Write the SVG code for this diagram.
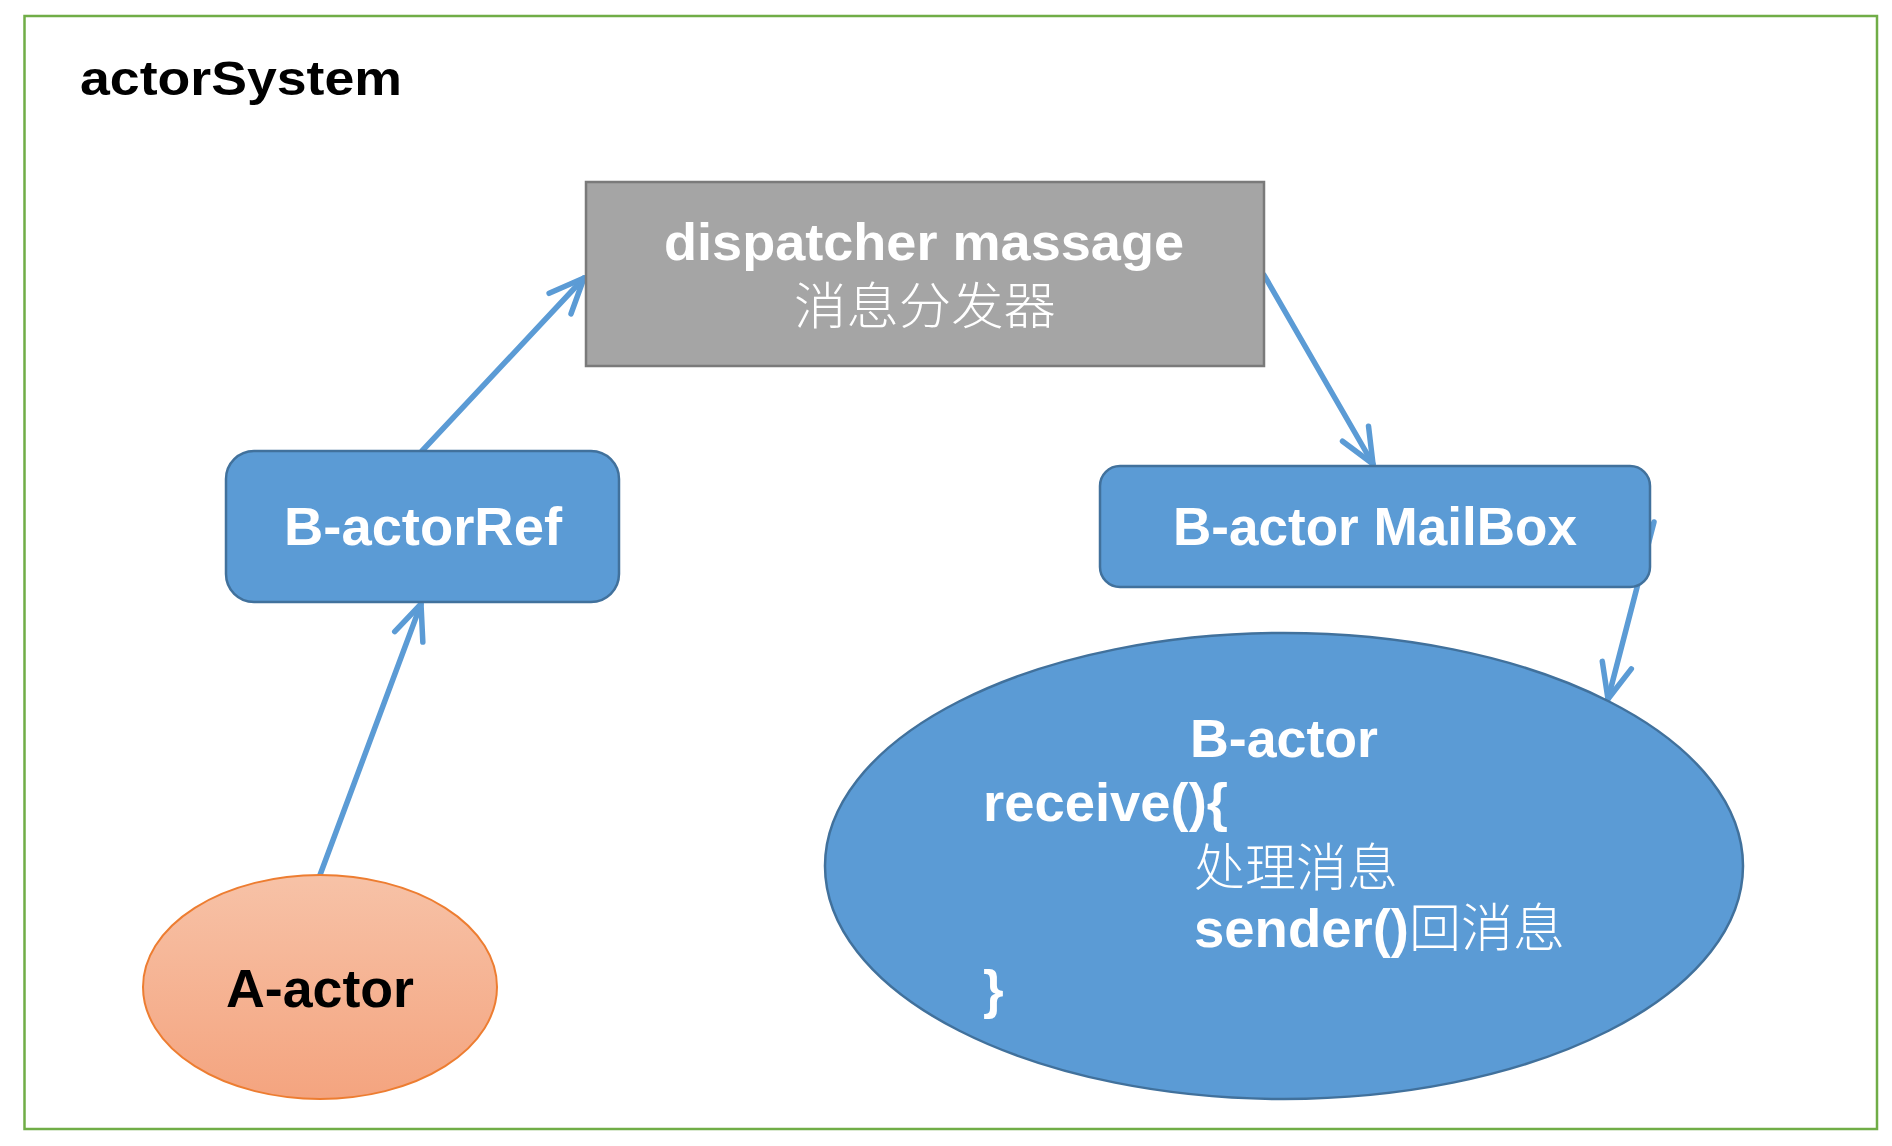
<svg xmlns="http://www.w3.org/2000/svg" width="1892" height="1146" viewBox="0 0 1892 1146">
<style>
.en{font-family:"Liberation Sans",Arial,sans-serif;font-weight:bold;fill:#fff}
.zh{font-family:"Noto Sans CJK SC",sans-serif;font-weight:300;fill:#fff}
.blue{fill:#5B9BD5;stroke:#41719C;stroke-width:2.5}
.conn{stroke:#5B9BD5;stroke-width:5.5;fill:none;stroke-linecap:round;marker-end:url(#arr)}
</style>
<defs>
<marker id="arr" markerUnits="userSpaceOnUse" viewBox="-45 -25 50 50" markerWidth="50" markerHeight="50" refX="0" refY="0" orient="auto" overflow="visible">
<path d="M-35,-15 L0,0 L-35,15" fill="none" stroke="#5B9BD5" stroke-width="5.5" stroke-linecap="round" stroke-linejoin="round"/>
</marker>
<linearGradient id="ga" x1="0" y1="0" x2="0" y2="1">
<stop offset="0" stop-color="#F7C2A7"/>
<stop offset="1" stop-color="#F4A47F"/>
</linearGradient>
</defs>
<rect width="1892" height="1146" fill="#fff"/>
<g id="actorSystem">
<rect x="24.5" y="16" width="1852.5" height="1113" fill="none" stroke="#70AD47" stroke-width="2.5"/>
<text class="en" x="80" y="95" font-size="48" textLength="322" lengthAdjust="spacingAndGlyphs" style="fill:#000">actorSystem</text>
</g>
<g id="connectors">
<line class="conn" x1="320" y1="875" x2="421" y2="604"/>
<line class="conn" x1="422" y1="451" x2="584" y2="278"/>
<line class="conn" x1="1264" y1="275" x2="1373" y2="464"/>
<line class="conn" x1="1654" y1="522" x2="1608" y2="699"/>
</g>
<g id="dispatcher">
<rect x="586" y="182" width="678" height="184" fill="#A5A5A5" stroke="#7A7A7A" stroke-width="2.5"/>
<text class="en" x="664" y="260" font-size="52" textLength="520" lengthAdjust="spacingAndGlyphs">dispatcher massage</text>
<text class="zh" x="925" y="324" font-size="50" text-anchor="middle" textLength="262" lengthAdjust="spacingAndGlyphs">消息分发器</text>
</g>
<g id="b-actorRef">
<rect class="blue" x="226" y="451" width="393" height="151" rx="28"/>
<text class="en" x="284" y="545" font-size="53" textLength="278" lengthAdjust="spacingAndGlyphs">B-actorRef</text>
</g>
<g id="b-actor-mailbox">
<rect class="blue" x="1100" y="466" width="550" height="121" rx="20"/>
<text class="en" x="1173" y="545" font-size="53" textLength="404" lengthAdjust="spacingAndGlyphs">B-actor MailBox</text>
</g>
<g id="b-actor">
<ellipse class="blue" cx="1284" cy="866" rx="459" ry="233"/>
<text class="en" x="1190" y="757" font-size="53" textLength="188" lengthAdjust="spacingAndGlyphs">B-actor</text>
<text class="en" x="983" y="821" font-size="53" textLength="245" lengthAdjust="spacingAndGlyphs">receive(){</text>
<text class="zh" x="1194" y="886" font-size="51">处理消息</text>
<text x="1194" y="947"><tspan class="en" font-size="53" textLength="215" lengthAdjust="spacingAndGlyphs">sender()</tspan><tspan class="zh" font-size="52">回消息</tspan></text>
<text class="en" x="983" y="1008" font-size="53">}</text>
</g>
<g id="a-actor">
<ellipse cx="320" cy="987" rx="177" ry="112" fill="url(#ga)" stroke="#ED7D31" stroke-width="2"/>
<text class="en" x="226" y="1007" font-size="53" textLength="188" lengthAdjust="spacingAndGlyphs" style="fill:#000">A-actor</text>
</g>
</svg>
